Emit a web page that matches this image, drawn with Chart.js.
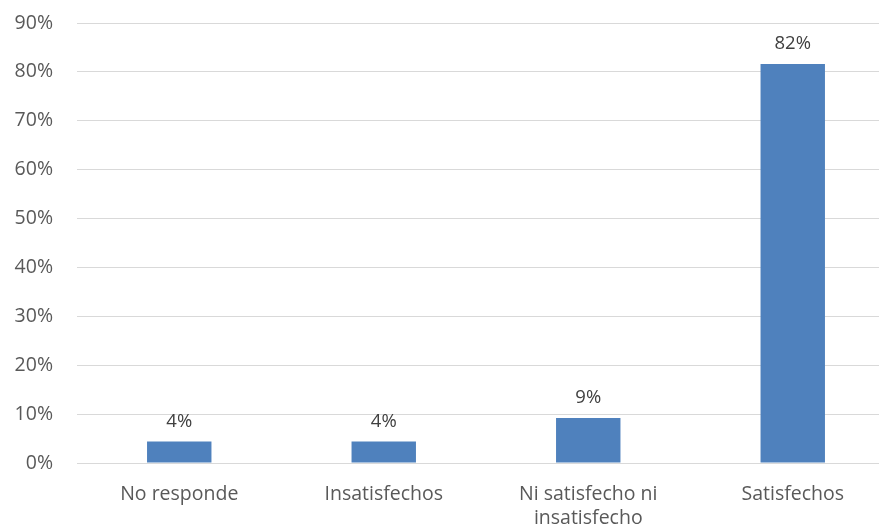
<!DOCTYPE html>
<html>
<head>
<meta charset="utf-8">
<script src="https://cdn.jsdelivr.net/npm/chart.js@4"></script>
<style>
  html, body { margin: 0; padding: 0; background: #fff; overflow: hidden; }
  #wrap { width: 879px; height: 529px; overflow: hidden; }
</style>
</head>
<body>
<div id="wrap"><canvas id="satChart" width="895" height="529"></canvas></div>
<script>
// data
const categories = ['No responde', 'Insatisfechos', ['Ni satisfecho ni', 'insatisfecho'], 'Satisfechos'];
const percentages = [4.4, 4.4, 9.2, 81.6];
const yTicks = [0, 10, 20, 30, 40, 50, 60, 70, 80, 90];

const fontFamily = '"Open Sans", Lato, sans-serif';

// draws the value above every bar
const valueLabels = {
    id: 'valueLabels',
    afterDatasetsDraw(chart) {
        let ctx = chart.ctx;
        let meta = chart.getDatasetMeta(0);
        ctx.save();
        ctx.font = '18.5px ' + fontFamily;
        ctx.fillStyle = '#404040';
        ctx.textAlign = 'center';
        ctx.textBaseline = 'bottom';
        meta.data.forEach(function (bar, i) {
            ctx.fillText(Math.round(percentages[i]) + '%', bar.x, bar.y - 11);
        });
        ctx.restore();
    }
};

let ctx = document.getElementById('satChart').getContext('2d');
let chart = new Chart(ctx, {
    type: 'bar',
    data: {
        labels: categories,
        datasets: [{
            data: percentages,
            backgroundColor: '#4f81bd',
            borderWidth: 0,
            barPercentage: 0.315,
            categoryPercentage: 1
        }]
    },
    options: {
        responsive: false,
        animation: false,
        layout: { padding: { top: 23, left: 0, right: 0, bottom: 0 } },
        plugins: {
            legend: { display: false },
            tooltip: { enabled: false }
        },
        scales: {
            x: {
                grid: { display: false, drawTicks: false },
                border: { display: false },
                ticks: {
                    color: '#595959',
                    font: { family: fontFamily, size: 19.5, lineHeight: 1.2 },
                    padding: 20,
                    maxRotation: 0
                },
                afterFit: function (scale) { scale.height = 66; }
            },
            y: {
                min: 0,
                max: 90,
                afterBuildTicks: function (scale) {
                    scale.ticks = yTicks.map(v => ({ value: v }));
                },
                grid: { color: '#d9d9d9', lineWidth: 1, drawTicks: false },
                border: { display: false },
                ticks: {
                    color: '#595959',
                    font: { family: fontFamily, size: 19.5 },
                    padding: 24,
                    callback: v => v + '%'
                },
                afterFit: function (scale) {
                    scale.width = 77;
                    scale.paddingTop = 0;
                    scale.paddingBottom = 0;
                }
            }
        }
    },
    plugins: [valueLabels]
});
</script>
</body>
</html>
